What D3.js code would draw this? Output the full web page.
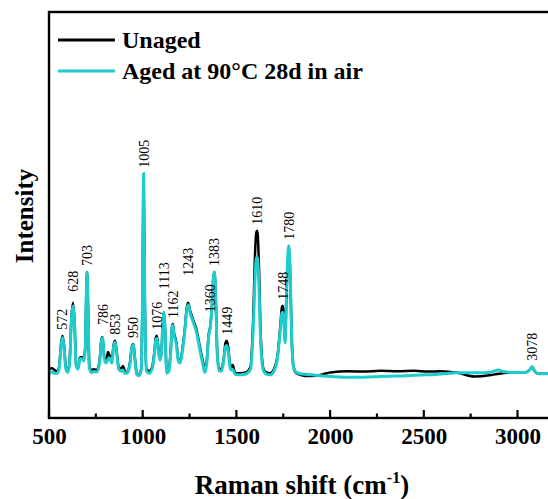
<!DOCTYPE html>
<html>
<head>
<meta charset="utf-8">
<script src="https://cdn.jsdelivr.net/npm/d3@7"></script>
<style>
  body { margin: 0; background: #fff; }
  svg text { font-family: "Liberation Serif", "Times New Roman", serif; }
</style>
</head>
<body>
<div id="graph"></div>
<script>
// Raman spectra: [wavenumber, intensity (a.u.)]
var unaged = [
  [500,12.0],[515,12.2],[530,11.8],[545,11.4],[555,13],[565,18.5],[572,20.2],[580,18],[590,12.5],
  [600,11.6],[610,14],[620,25],[628,28.3],[636,24],[645,13],[655,12.3],[665,14.8],[675,15.0],
  [685,14.5],[693,17],[698,28],[703,35.9],[708,28],[715,13],[725,11.8],[740,12.0],[755,11.8],
  [770,14],[780,19.5],[786,19.9],[795,15],[805,14.0],[815,16.2],[822,15.5],[835,14],[845,18],
  [853,19.0],[862,16],[872,12.5],[885,12.2],[895,12.8],[905,11.5],[915,11.3],[930,13],[942,17.5],
  [950,18.2],[958,15],[968,11],[980,10.6],[992,12],[999,30],[1005,60.0],[1011,30],[1020,12],
  [1035,11.5],[1050,12.5],[1062,16],[1070,19.8],[1076,20.2],[1084,17],[1092,14.5],[1100,16],
  [1108,24],[1113,26.0],[1119,22],[1128,11.5],[1140,12],[1150,17],[1157,22.5],[1162,23.1],
  [1168,20.5],[1172,20],[1180,18.5],[1190,14.5],[1200,14.0],[1212,17],[1225,22],[1235,27],
  [1243,28.3],[1252,26.5],[1270,24],[1286,21.9],[1305,17.5],[1322,13.8],[1332,12],[1342,14],
  [1352,20.5],[1360,22.3],[1370,28],[1377,34.5],[1383,35.9],[1390,29],[1398,16],[1408,12.2],
  [1420,12.0],[1432,14.5],[1442,18.5],[1449,19.0],[1456,17.5],[1465,13.5],[1472,12.5],[1480,13.0],
  [1490,11.5],[1500,11.0],[1520,11.0],[1550,11.2],[1575,12.5],[1590,25],[1600,41],[1606,45.5],
  [1610,46.0],[1614,45],[1620,38],[1630,20],[1645,12],[1660,11.2],[1680,11.0],[1700,12],
  [1720,15.5],[1735,23],[1743,27.3],[1748,27.6],[1753,25.5],[1760,19.5],[1766,28],[1773,37.5],
  [1780,41.5],[1787,35.5],[1795,20],[1805,12.5],[1820,11],[1850,10.5],[1880,10.3],[1920,10.4],
  [1960,10.7],[2000,11.2],[2100,11.5],[2180,11.4],[2270,11.6],[2360,11.5],[2450,11.6],[2520,11.4],
  [2590,11.5],[2680,11.1],[2770,10.2],[2850,10.5],[2890,10.8],[2980,11.2],[3040,11.2],[3065,11.8],
  [3078,12.6],[3090,11.6],[3110,10.9],[3200,10.9]
];

var aged = [
  [500,11.0],[515,11.3],[530,11.0],[545,11.0],[555,12.5],[565,18],[572,19.8],[580,17.5],[590,12],
  [600,11.2],[610,13.5],[620,24.5],[628,27.5],[636,23.5],[645,12.8],[655,12.0],[665,14.5],[675,14.6],
  [685,14.0],[693,16.5],[698,28],[703,35.9],[708,28],[715,12.5],[725,11.2],[740,11.4],[755,11.3],
  [770,13.5],[780,19.2],[786,19.7],[795,14.5],[805,13.5],[815,14.5],[822,14.8],[835,13.5],[845,17.5],
  [853,18.6],[862,15.5],[872,12],[885,11.5],[895,11.8],[905,11.0],[915,11.0],[930,12.5],[942,17.2],
  [950,18.0],[958,14.5],[968,10.8],[980,10.4],[992,11.8],[999,30],[1005,60],[1011,30],[1020,11.5],
  [1035,11.0],[1050,12.0],[1062,15.5],[1070,19.2],[1076,19.6],[1084,16.5],[1092,14.2],[1100,16],
  [1108,24],[1113,26.0],[1119,22],[1128,11.0],[1140,11.5],[1150,16.5],[1157,22.2],[1162,22.8],
  [1168,20],[1172,19.5],[1180,18],[1190,14],[1200,13.5],[1212,16.5],[1225,21.5],[1235,26.5],
  [1243,27.8],[1252,26],[1270,23.5],[1286,21.2],[1305,16.8],[1322,13],[1332,11.2],[1342,13.5],
  [1352,20],[1360,22],[1370,28],[1377,34.5],[1383,35.9],[1390,29],[1398,15.5],[1408,11.6],
  [1420,11.5],[1432,14],[1442,17.5],[1449,17.8],[1456,16.5],[1465,12.8],[1472,11.8],[1480,12.0],
  [1490,11.0],[1500,10.6],[1520,10.6],[1550,10.8],[1575,12],[1590,22],[1600,35],[1606,39],
  [1610,39.5],[1614,38.8],[1620,33],[1630,18],[1645,11.5],[1660,10.8],[1680,10.6],[1700,11.5],
  [1720,15],[1735,22],[1743,25.8],[1748,26.0],[1753,24],[1760,18.5],[1766,28],[1773,38.5],
  [1780,42.3],[1787,36],[1795,20],[1805,12.5],[1820,11.2],[1850,10.8],[1900,10.6],[1950,10.4],
  [2000,10.2],[2100,10.0],[2180,10.0],[2270,10.2],[2360,10.3],[2450,10.5],[2520,10.6],[2590,10.8],
  [2680,11.1],[2770,11.1],[2850,11.2],[2900,11.8],[2920,11.4],[2980,11.2],[3040,11.2],[3065,11.8],
  [3078,12.6],[3090,11.6],[3110,10.9],[3200,10.9]
];

var peakLabels = [572, 628, 703, 786, 853, 950, 1005, 1076, 1113, 1162, 1243, 1360, 1383, 1449,
                  1610, 1748, 1780, 3078];
var majorTicks = [500, 1000, 1500, 2000, 2500, 3000];
var minorTicks = [750, 1250, 1750, 2250, 2750];
var seriesNames = ["Unaged", "Aged at 90\u00B0C 28d in air"];
var seriesColors = ["#000000", "#1ecccc"];

// gap (px) between a peak and its label; a few were lifted higher in the original
var labelGap = {628: 11, 786: 12, 1113: 23, 1243: 27, 1360: 15};

// dimensions
var width = 548, height = 499;
var plotLeft = 49, plotTop = 12, plotBottom = 418;

var x = d3.scaleLinear().domain([500, 3200]).range([plotLeft, plotLeft + 2700 * 0.1874]);
var y = d3.scaleLinear().domain([0, 100]).range([plotBottom, plotBottom - 407]);

var svg = d3.select("#graph").append("svg")
    .attr("width", width)
    .attr("height", height);

var line = d3.line()
    .curve(d3.curveMonotoneX)
    .x(function(d) { return x(d[0]); })
    .y(function(d) { return y(d[1]); });

// spectra
svg.append("path")
    .datum(unaged)
    .attr("fill", "none")
    .attr("stroke", seriesColors[0])
    .attr("stroke-width", 2.5)
    .attr("d", line);

svg.append("path")
    .datum(aged)
    .attr("fill", "none")
    .attr("stroke", seriesColors[1])
    .attr("stroke-width", 3)
    .attr("d", line);

// frame
svg.append("rect")
    .attr("x", plotLeft)
    .attr("y", plotTop)
    .attr("width", x(3200) - plotLeft)
    .attr("height", plotBottom - plotTop)
    .attr("fill", "none")
    .attr("stroke", "#000")
    .attr("stroke-width", 2.4);

// x axis labels
var xAxis = svg.append("g")
    .attr("transform", "translate(0," + plotBottom + ")")
    .call(d3.axisBottom(x).tickValues(majorTicks).tickSize(0).tickPadding(10).tickFormat(d3.format("d")));
xAxis.select(".domain").remove();
xAxis.selectAll("line").remove();
xAxis.selectAll("text")
    .attr("font-size", "23px")
    .attr("font-weight", "bold")
    .attr("fill", "#000");

// inward tick marks
svg.selectAll(".major")
    .data(majorTicks)
  .enter().append("line")
    .attr("class", "major")
    .attr("x1", function(d) { return x(d); })
    .attr("x2", function(d) { return x(d); })
    .attr("y1", plotBottom)
    .attr("y2", plotBottom - 8)
    .attr("stroke", "#000")
    .attr("stroke-width", 2.2);

svg.selectAll(".minor")
    .data(minorTicks)
  .enter().append("line")
    .attr("class", "minor")
    .attr("x1", function(d) { return x(d); })
    .attr("x2", function(d) { return x(d); })
    .attr("y1", plotBottom)
    .attr("y2", plotBottom - 4.5)
    .attr("stroke", "#000")
    .attr("stroke-width", 2.2);

// axis titles
var xt = svg.append("text")
    .attr("x", 302)
    .attr("y", 494)
    .attr("text-anchor", "middle")
    .attr("font-size", "27px")
    .attr("font-weight", "bold");
xt.append("tspan").text("Raman shift (cm");
xt.append("tspan").attr("font-size", "16px").attr("dy", "-11").text("-1");
xt.append("tspan").attr("dy", "11").text(")");

svg.append("text")
    .attr("transform", "translate(33,216) rotate(-90)")
    .attr("text-anchor", "middle")
    .attr("font-size", "25px")
    .attr("font-weight", "bold")
    .text("Intensity");

// peak labels sit just above the higher of the two curves
function valueAt(data, wn) {
  var i = d3.bisector(function(d) { return d[0]; }).left(data, wn);
  if (data[i][0] === wn) return data[i][1];
  var a = data[i - 1], b = data[i];
  return a[1] + (b[1] - a[1]) * (wn - a[0]) / (b[0] - a[0]);
}

svg.selectAll(".peak")
    .data(peakLabels)
  .enter().append("text")
    .attr("class", "peak")
    .attr("transform", function(d) {
      var v = Math.max(valueAt(unaged, d), valueAt(aged, d));
      var gap = labelGap[d] || 6;
      return "translate(" + x(d) + "," + (y(v) - gap) + ") rotate(-90)";
    })
    .attr("dy", "0.35em")
    .attr("font-size", "14px")
    .text(function(d) { return d; });

// legend
var legend = svg.selectAll(".legend")
    .data(seriesNames)
  .enter().append("g")
    .attr("class", "legend")
    .attr("transform", function(d, i) { return "translate(58," + (40 + i * 31) + ")"; });

legend.append("line")
    .attr("x1", 0).attr("x2", 57)
    .attr("stroke", function(d, i) { return seriesColors[i]; })
    .attr("stroke-width", 2.8);

legend.append("text")
    .attr("x", 64)
    .attr("y", 8)
    .attr("font-size", "24px")
    .attr("font-weight", "bold")
    .text(function(d) { return d; });
</script>
</body>
</html>
